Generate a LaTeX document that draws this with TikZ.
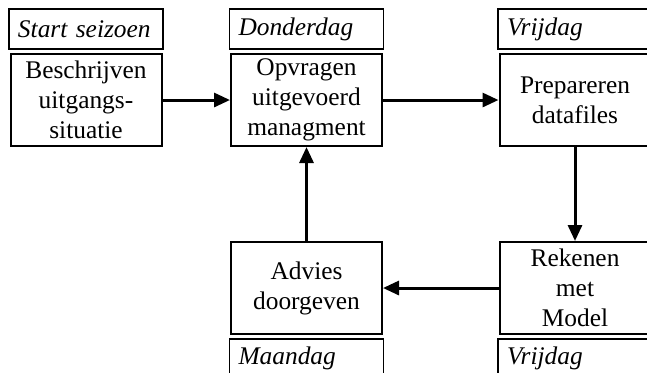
\documentclass[tikz,border=0pt]{standalone}
\usepackage{fontspec}
\setmainfont{Liberation Serif}
\usetikzlibrary{positioning,arrows.meta}

\begin{document}
\begin{tikzpicture}[x=0.5pt, y=-0.5pt,
every node/.style={%
    font=\fontsize{12.7}{15}\selectfont
    },
stap/.style={draw, line width=1pt, minimum width=75.5pt, minimum height=46pt,
    text width=70pt, align=center, inner sep=0pt},
dag/.style={draw, line width=0.8pt, minimum width=77pt, minimum height=20pt,
    text width=68pt, align=left, inner xsep=4.5pt, inner ysep=0pt,
    font=\fontsize{12.7}{15}\selectfont\itshape},
pijl/.style={line width=1.5pt, -{Triangle[length=8pt,width=7pt]}}
]
\useasboundingbox (0,0) rectangle (647,372);
\clip (0,0) rectangle (647,372);

% stappen
\node[stap] (besch) at (86,100)    {Beschrijven\\ uitgangs-\\ situatie};
\node[stap] (opvr)  at (306.5,100) {Opvragen\\ uitgevoerd\\ managment};
\node[stap] (prep)  at (575,100)   {Prepareren\\ datafiles};
\node[stap] (rek)   at (575,288)   {Rekenen\\ met\\ Model};
\node[stap] (adv)   at (306.5,288) {Advies\\ doorgeven};

% dagen
\node[dag, above=1.5pt of besch] (dstart) {Start seizoen};
\node[dag, above=1.5pt of opvr]  (ddon)   {Donderdag};
\node[dag, above=1.5pt of prep]  (dvrij)  {Vrijdag};
\node[dag, below=1.5pt of adv]   (dmaan)  {Maandag};
\node[dag, below=1.5pt of rek]   (dvrijb) {Vrijdag};

\foreach \i/\j in {besch.east/opvr.west, opvr.east/prep.west,%
                   prep.south/rek.north, rek.west/adv.east,%
                   adv.north/opvr.south%
            }
    \draw [pijl] (\i) -- (\j);

\end{tikzpicture}
\end{document}
